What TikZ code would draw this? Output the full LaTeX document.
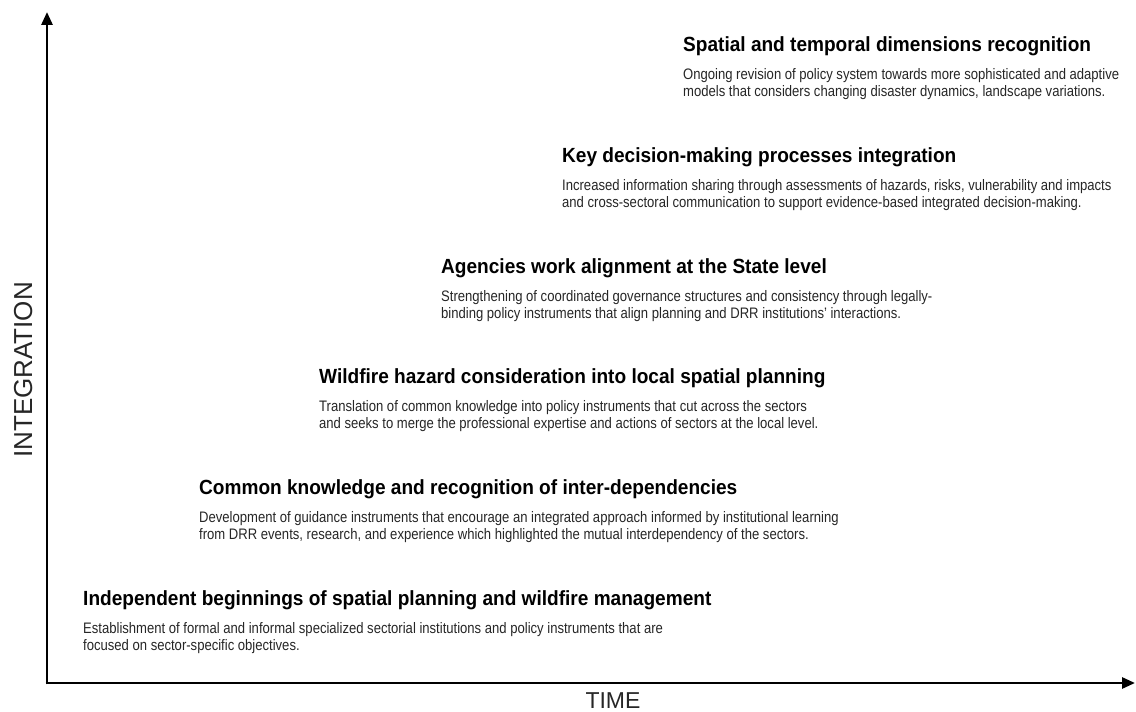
\documentclass[tikz,border=0pt]{standalone}
\usepackage{fontspec}
\setmainfont{Liberation Sans}
\newfontfamily\narrowsans[FakeStretch=0.86]{Liberation Sans}
\newfontfamily\boldsans[FakeStretch=0.93]{Liberation Sans Bold}
\usetikzlibrary{arrows.meta,positioning}

\begin{document}
\begin{tikzpicture}[x=1pt,y=1pt,
  headline/.style={anchor=base west, inner sep=0pt, font=\boldsans\fontsize{20.5}{24}\selectfont},
  blurb/.style={inner sep=0pt, align=left, text=black!85, font=\narrowsans\fontsize{15.2}{16.5}\selectfont},
  axislabel/.style={inner sep=0pt, text=black!85}]
\useasboundingbox (0,0) rectangle (1136,712);

% axes
\coordinate (origin) at (47,29);
\coordinate (ytip) at (47,700);
\coordinate (xtip) at (1135,29);
\draw [line width=2.8pt, -{Triangle[length=13pt,width=11pt]}] ([yshift=-1.4pt]origin) -- (ytip);
\draw [line width=2.8pt, -{Triangle[length=13pt,width=11pt]}] ([xshift=-1.4pt]origin) -- (xtip);
\node [axislabel, rotate=90, anchor=base, font=\fontsize{26}{30}\selectfont] (integ) at (32,342) {INTEGRATION};
\node [axislabel, anchor=base, text depth=0pt, font=\fontsize{23}{27}\selectfont] (time) at (613,3) {TIME};

% stages, bottom to top
\node [headline] (t1) at (83,106) {Independent beginnings of spatial planning and wildfire management};
\node [blurb, below=16.5pt of t1.base west, anchor=north west] (d1)
  {Establishment of formal and informal specialized sectorial institutions and policy instruments that are\\
   focused on sector-specific objectives.};

\node [headline] (t2) at (199,217) {Common knowledge and recognition of inter-dependencies};
\node [blurb, below=16.5pt of t2.base west, anchor=north west] (d2)
  {Development of guidance instruments that encourage an integrated approach informed by institutional learning\\
   from DRR events, research, and experience which highlighted the mutual interdependency of the sectors.};

\node [headline] (t3) at (319,328) {Wildfire hazard consideration into local spatial planning};
\node [blurb, below=16.5pt of t3.base west, anchor=north west] (d3)
  {Translation of common knowledge into policy instruments that cut across the sectors\\
   and seeks to merge the professional expertise and actions of sectors at the local level.};

\node [headline] (t4) at (441,438) {Agencies work alignment at the State level};
\node [blurb, below=16.5pt of t4.base west, anchor=north west] (d4)
  {Strengthening of coordinated governance structures and consistency through legally-\\
   binding policy instruments that align planning and DRR institutions’ interactions.};

\node [headline] (t5) at (562,549) {Key decision-making processes integration};
\node [blurb, below=16.5pt of t5.base west, anchor=north west] (d5)
  {Increased information sharing through assessments of hazards, risks, vulnerability and impacts\\
   and cross-sectoral communication to support evidence-based integrated decision-making.};

\node [headline] (t6) at (683,660) {Spatial and temporal dimensions recognition};
\node [blurb, below=16.5pt of t6.base west, anchor=north west] (d6)
  {Ongoing revision of policy system towards more sophisticated and adaptive\\
   models that considers changing disaster dynamics, landscape variations.};
\end{tikzpicture}
\end{document}
